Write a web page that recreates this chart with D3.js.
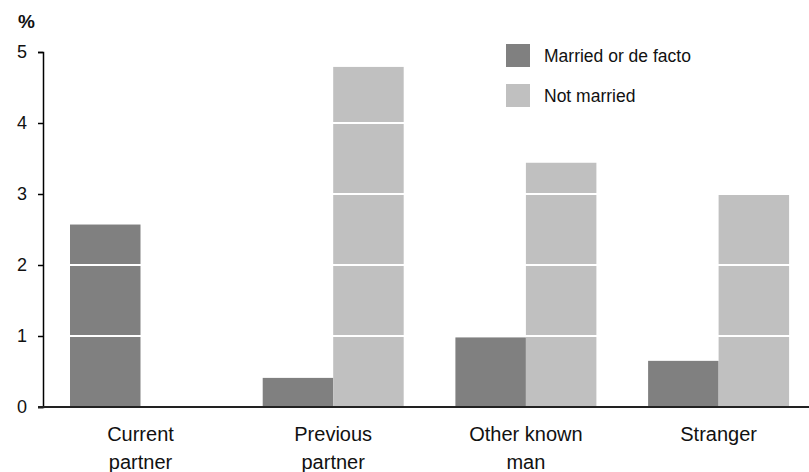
<!DOCTYPE html>
<html>
<head>
<meta charset="utf-8">
<script src="https://cdn.jsdelivr.net/npm/d3@7"></script>
<style>
  body { margin: 0; background: #fff; }
  text { font-family: "Liberation Sans", Arial, sans-serif; fill: #111; }
</style>
</head>
<body>
<div id="chart"></div>
<script>
var width = 809;
var height = 472;

// data
var categories = ["Current partner", "Previous partner", "Other known man", "Stranger"];
var labelLines = [["Current", "partner"], ["Previous", "partner"], ["Other known", "man"], ["Stranger"]];
var series = ["Married or de facto", "Not married"];
var married = [2.57, 0.41, 0.98, 0.65];
var notMarried = [0, 4.79, 3.44, 2.99];
var yTicks = [0, 1, 2, 3, 4, 5];
var colors = ["#808080", "#c0c0c0"];

var rows = categories.map(function(c, i) {
    return { cat: c, values: [married[i], notMarried[i]] };
});

var svg = d3.select("#chart")
    .append("svg")
    .attr("width", width)
    .attr("height", height);

var plotLeft = 43, plotBottom = 407, plotTop = 52;

var yScale = d3.scaleLinear()
    .domain([0, 5])
    .range([plotBottom, plotTop]);

var x0 = d3.scaleBand()
    .domain(categories)
    .range([plotLeft, plotLeft + 4 * 192.7]);

var x1 = d3.scaleBand()
    .domain(series)
    .range([0, 141]);

var groupOffset = 27;

// bars
var groups = svg.selectAll("g.group")
    .data(rows)
    .enter()
    .append("g")
    .attr("class", "group")
    .attr("transform", function(d) { return "translate(" + (x0(d.cat) + groupOffset) + ",0)"; });

groups.selectAll("rect")
    .data(function(d) { return d.values.map(function(v, j) { return { s: series[j], v: v, j: j }; }); })
    .enter()
    .append("rect")
    .attr("x", function(d) { return x1(d.s); })
    .attr("width", x1.bandwidth())
    .attr("y", function(d) { return yScale(d.v); })
    .attr("height", function(d) { return plotBottom - yScale(d.v); })
    .attr("fill", function(d) { return colors[d.j]; });

// white gridlines drawn over the bars
svg.append("g")
    .selectAll("line")
    .data(yTicks.filter(function(t) { return t > 0; }))
    .enter()
    .append("line")
    .attr("x1", plotLeft + 1)
    .attr("x2", width)
    .attr("y1", function(d) { return yScale(d); })
    .attr("y2", function(d) { return yScale(d); })
    .attr("stroke", "#fff")
    .attr("stroke-width", 2);

// y axis
var yAxis = d3.axisLeft(yScale)
    .tickValues(yTicks)
    .tickFormat(d3.format("d"))
    .tickSize(5)
    .tickPadding(11);

var yg = svg.append("g")
    .attr("transform", "translate(" + plotLeft + ",0)")
    .call(yAxis);
yg.select(".domain").attr("stroke", "#000").attr("stroke-width", 1.5);
yg.selectAll(".tick line").attr("stroke", "#000").attr("stroke-width", 1.5);
yg.selectAll(".tick text")
    .style("font-size", "18px")
    .style("font-family", "Liberation Sans, Arial, sans-serif")
    .attr("fill", "#111");

// x baseline
svg.append("line")
    .attr("x1", plotLeft - 5)
    .attr("x2", width)
    .attr("y1", plotBottom)
    .attr("y2", plotBottom)
    .attr("stroke", "#222")
    .attr("stroke-width", 2);

// % label
svg.append("text")
    .attr("x", 18)
    .attr("y", 28)
    .style("font-size", "19px")
    .style("font-weight", "bold")
    .text("%");

// category labels
var labels = svg.selectAll("text.cat")
    .data(rows)
    .enter()
    .append("text")
    .attr("class", "cat")
    .attr("text-anchor", "middle")
    .attr("x", function(d) { return x0(d.cat) + groupOffset + x1.bandwidth(); })
    .attr("y", 441)
    .style("font-size", "20px");

labels.each(function(d, i) {
    var t = d3.select(this);
    labelLines[i].forEach(function(line, k) {
        t.append("tspan")
            .attr("x", t.attr("x"))
            .attr("dy", k === 0 ? 0 : 28)
            .text(line);
    });
});

// legend
var legend = svg.append("g")
    .attr("transform", "translate(506,44)");

var items = legend.selectAll("g")
    .data(series)
    .enter()
    .append("g")
    .attr("transform", function(d, i) { return "translate(0," + (i * 40) + ")"; });

items.append("rect")
    .attr("width", 24)
    .attr("height", 23)
    .attr("fill", function(d, i) { return colors[i]; });

items.append("text")
    .attr("x", 38)
    .attr("y", 18)
    .style("font-size", "17.5px")
    .text(function(d) { return d; });
</script>
</body>
</html>
